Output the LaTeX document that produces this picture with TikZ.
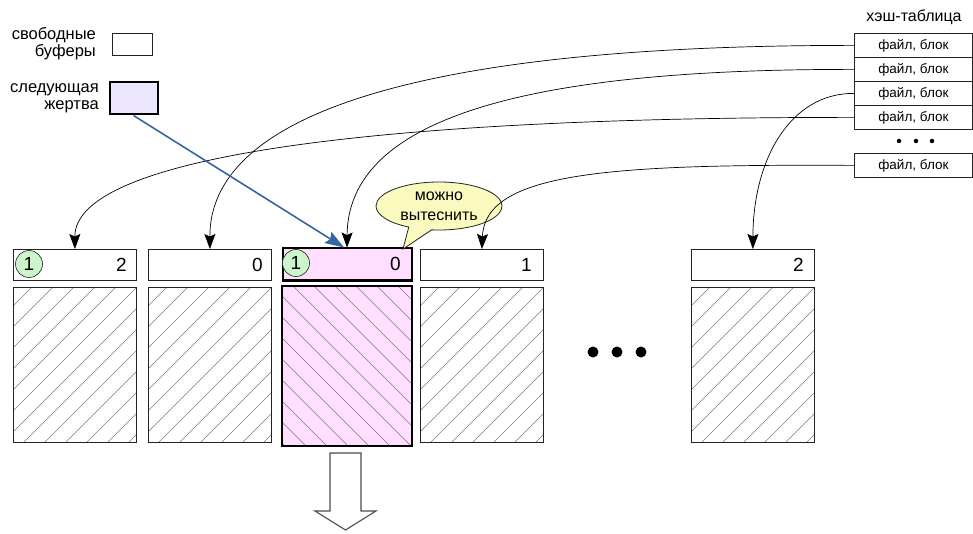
\documentclass[tikz,border=0pt]{standalone}
\usepackage{fontspec}
\setmainfont{Liberation Sans}
\usetikzlibrary{arrows.meta,shapes.callouts}
\definecolor{pinkf}{RGB}{255,222,255}
\definecolor{lavf}{RGB}{237,230,255}
\definecolor{yelf}{RGB}{250,250,190}
\definecolor{grnf}{RGB}{204,245,204}
\definecolor{hatchc}{RGB}{125,125,125}
\definecolor{bluea}{RGB}{52,101,164}
\definecolor{edgec}{RGB}{35,35,35}
\begin{document}
\begin{tikzpicture}[x=1pt,y=-1pt,
  hdr/.style={draw=edgec,line width=0.8pt,minimum width=123pt,minimum height=31pt,inner sep=0pt,anchor=north west},
  databox/.style={draw=edgec,line width=0.8pt,minimum width=123pt,minimum height=155pt,inner sep=0pt,anchor=north west},
  hrow/.style={draw=edgec,line width=0.8pt,minimum width=118pt,minimum height=24pt,inner sep=0pt,anchor=north west,font=\fontsize{13.5}{15}\selectfont},
  num/.style={anchor=east,inner sep=0pt,font=\fontsize{19}{20}\selectfont},
  circ/.style={circle,draw=edgec,line width=0.6pt,fill=grnf,minimum size=27pt,inner sep=0pt,font=\fontsize{19}{20}\selectfont},
  lbl/.style={align=right,anchor=east,inner sep=0pt,font=\fontsize{16.5}{17}\selectfont},
  hatch/.style={draw=hatchc,line width=0.6pt},
  link/.style={draw=black,line width=0.7pt,-{Stealth[length=15pt,width=11pt,inset=2.5pt]}},
  bigdot/.style={circle,fill=black,minimum size=11pt,inner sep=0pt},
  smalldot/.style={circle,fill=black,minimum size=4.5pt,inner sep=0pt}]
\useasboundingbox (0,0) rectangle (973,534);

% legend
\node[lbl] (l1) at (96,44) {свободные\\буферы};
\node[draw=edgec,line width=0.8pt,minimum width=40pt,minimum height=22pt,inner sep=0pt,anchor=north west] (free) at (112,33) {};
\node[lbl] (l2) at (99,98) {следующая\\жертва};
\node[draw=black,line width=2pt,fill=lavf,minimum width=48pt,minimum height=32pt,inner sep=0pt,anchor=north west] (vict) at (108.5,81.5) {};

% hash table
\node[font=\fontsize{16}{18}\selectfont] (htitle) at (914,17) {хэш-таблица};
\node[hrow] (h1) at (854,33) {файл, блок};
\node[hrow] (h2) at (854,57) {файл, блок};
\node[hrow] (h3) at (854,81) {файл, блок};
\node[hrow] (h4) at (854,105) {файл, блок};
\node[smalldot] (hd1) at (899,141) {};
\node[smalldot] (hd2) at (916,141) {};
\node[smalldot] (hd3) at (932,141) {};
\node[hrow] (h5) at (854,153) {файл, блок};

% hatched data areas (plain buffers)
\foreach \bx/\nm in {13/d1,148/d2,420/d4,691/d5}{
  \begin{scope}
    \clip (\bx,287) rectangle ++(123,155);
    \foreach \k in {-160,-139,...,140}{
      \draw[hatch] (\bx+\k,445) -- ++(170,-170);
    }
  \end{scope}
  \node[databox] (\nm) at (\bx,287) {};
}
% pink buffer data
\fill[pinkf] (281,285) rectangle (411,445);
\begin{scope}
  \clip (281,285) rectangle (411,445);
  \foreach \k in {-160,-139,...,150}{
    \draw[hatch] (281+\k,282) -- ++(170,170);
  }
\end{scope}
\node[draw=black,line width=2pt,minimum width=130pt,minimum height=160pt,inner sep=0pt,anchor=north west] (d3) at (281,285) {};

% headers
\node[hdr] (b1) at (13,249) {};
\node[hdr] (b2) at (148,249) {};
\node[draw=black,line width=2pt,fill=pinkf,minimum width=129pt,minimum height=32pt,inner sep=0pt,anchor=north west] (b3) at (281.5,247.5) {};
\node[hdr] (b4) at (420,249) {};
\node[hdr] (b5) at (691,249) {};

\node[num] (n1) at (127,265) {2};
\node[num] (n2) at (263,265) {0};
\node[num] (n3) at (401,264) {0};
\node[num] (n4) at (532,265) {1};
\node[num] (n5) at (804,265) {2};
\node[circ] (c1) at (29,264) {1};
\node[circ] (c3) at (296,263) {1};

% dots between buffers
\node[bigdot] (dd1) at (593,352) {};
\node[bigdot] (dd2) at (617,352) {};
\node[bigdot] (dd3) at (641,352) {};

% callout
\node[ellipse callout,draw=edgec,line width=0.8pt,fill=yelf,minimum width=126pt,minimum height=48pt,inner sep=0pt,align=center,
  callout absolute pointer={(403,249)},callout pointer arc=22,font=\fontsize{16}{20}\selectfont] (call) at (439,206) {можно\\вытеснить};

% links hash -> buffers
\draw[link] (h1.west) .. controls (404,45) and (209.5,119) .. (b2.north);
\draw[link] (h2.west) .. controls (570,69) and (348,105) .. (b3.north);
\draw[link] (h3.west) .. controls (790,93) and (753,160) .. (b5.north);
\draw[link] (h4.west) .. controls (350,117) and (74.5,160) .. (b1.north);
\draw[link] (h5.west) .. controls (610,164) and (485,172) .. (b4.north);

% victim pointer
\draw[bluea,line width=1.6pt,-{Stealth[length=19pt,width=13pt,inset=3pt]}] (vict.south) -- ([xshift=-3pt]b3.north);

% down block arrow
\node[inner sep=0pt,minimum size=0pt] (dn) at (345.5,453) {};
\draw[draw=black!70,line width=1.1pt,fill=white] (dn.center) ++(-15.5,0) -- ++(31,0) -- ++(0,58) -- ++(15,0) -- ++(-30.5,19) -- ++(-30.5,-19) -- ++(15,0) -- cycle;
\end{tikzpicture}
\end{document}
